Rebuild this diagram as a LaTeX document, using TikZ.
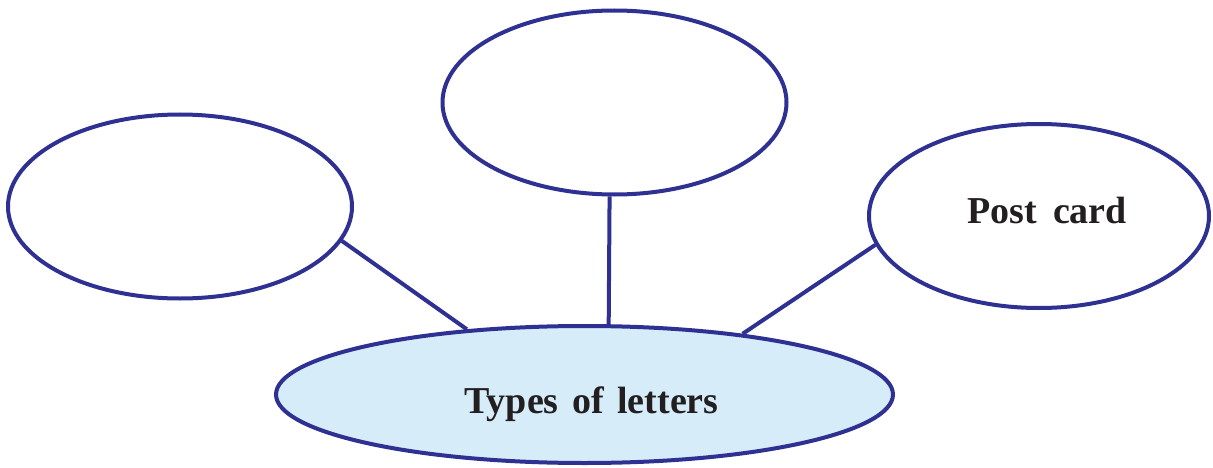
\documentclass[tikz,border=0pt]{standalone}
\usepackage{fontspec}
\setmainfont{Liberation Serif}
\usetikzlibrary{shapes.geometric}
\definecolor{edgeblue}{HTML}{2E3192}
\definecolor{paleblue}{HTML}{D6ECF9}
\definecolor{inkblack}{HTML}{231F20}
\tikzset{
  bubble/.style={ellipse, draw=edgeblue, line width=4pt, inner sep=0pt,
    minimum width=344pt, minimum height=184pt},
  centre/.style={ellipse, draw=edgeblue, fill=paleblue, line width=4pt, inner sep=0pt,
    minimum width=617pt, minimum height=137pt},
  link/.style={draw=edgeblue, line width=4pt},
  lbl/.style={anchor=base, text=inkblack, font=\fontsize{38}{40}\selectfont\bfseries, inner sep=0pt}
}
\begin{document}
\begin{tikzpicture}[x=1pt,y=1pt]
\useasboundingbox (0,0) rectangle (1213,467);
\node[bubble] (leftb) at (180,260.5) {};
\node[bubble] (topb) at (614.5,364.5) {};
\node[bubble, minimum width=340pt] (rightb) at (1039,251) {};
\node[centre] (types) at (584.5,72.5) {};
\node[lbl] (typeslbl) at (591.5,54) {Types\hspace{0.355em}of\hspace{0.355em}letters};
\node[lbl] (postlbl) at (1047,244) {Post\hspace{0.43em}card};
\draw[link] (leftb.-12.7) -- (types.151.5);
\draw[link] (topb.-93.3) -- (types.71.1);
\draw[link] (rightb.-170.9) -- (types.21.2);
\end{tikzpicture}
\end{document}
